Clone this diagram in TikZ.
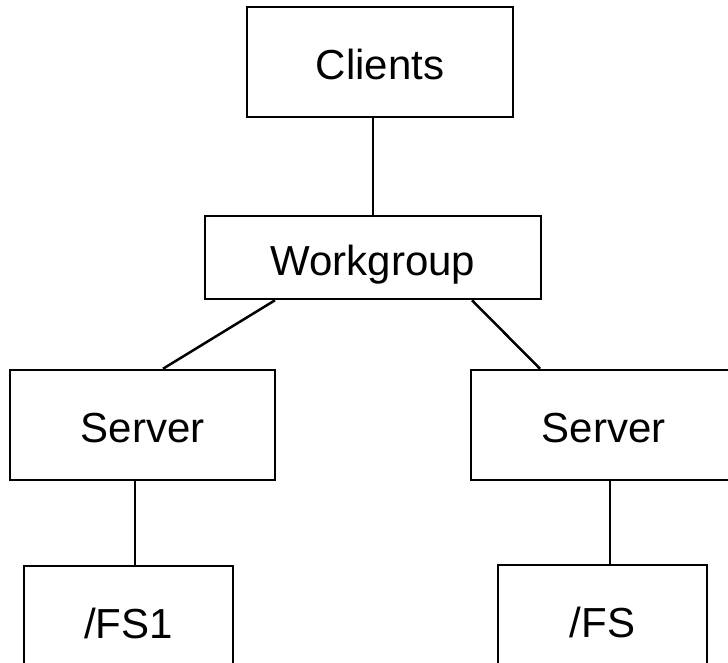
\documentclass[tikz,border=0pt]{standalone}
\usepackage{fontspec}
\setmainfont{Liberation Sans}

\begin{document}
\begin{tikzpicture}[x=1pt,y=-1pt]
\tikzstyle{box}=[rectangle,draw,line width=2.5pt,inner sep=0pt,text height=35pt,text depth=0pt,font=\fontsize{42}{48}\selectfont]
\tikzstyle{every node}=[box]
\tikzstyle{link}=[line width=2.5pt]
\useasboundingbox (0,0) rectangle (728,662);
\node[minimum width=266pt,minimum height=110pt] (clients) at (380,62) {Clients};
\node[minimum width=336pt,minimum height=83pt] (workgroup) at (373,257.5) {Workgroup};
\node[minimum width=265pt,minimum height=110pt] (serverA) at (142.5,425) {Server};
\node[minimum width=265pt,minimum height=110pt] (serverB) at (603.5,425) {Server};
\node[minimum width=209pt,minimum height=110pt] (fsA) at (128.5,621) {/FS1};
\node[minimum width=209pt,minimum height=110pt] (fsB) at (602.5,620) {/FS};
% connectors
\draw[link] (workgroup.north) -- (workgroup.north |- clients.south);
\draw[link] ([xshift=-98pt]workgroup.south) -- ([xshift=20.5pt]serverA.north);
\draw[link] ([xshift=99pt]workgroup.south) -- ([xshift=-63.5pt]serverB.north);
\draw[link] ([xshift=6.5pt]fsA.north) -- ([xshift=6.5pt]fsA.north |- serverA.south);
\draw[link] ([xshift=7.5pt]fsB.north) -- ([xshift=7.5pt]fsB.north |- serverB.south);
\end{tikzpicture}
\end{document}
